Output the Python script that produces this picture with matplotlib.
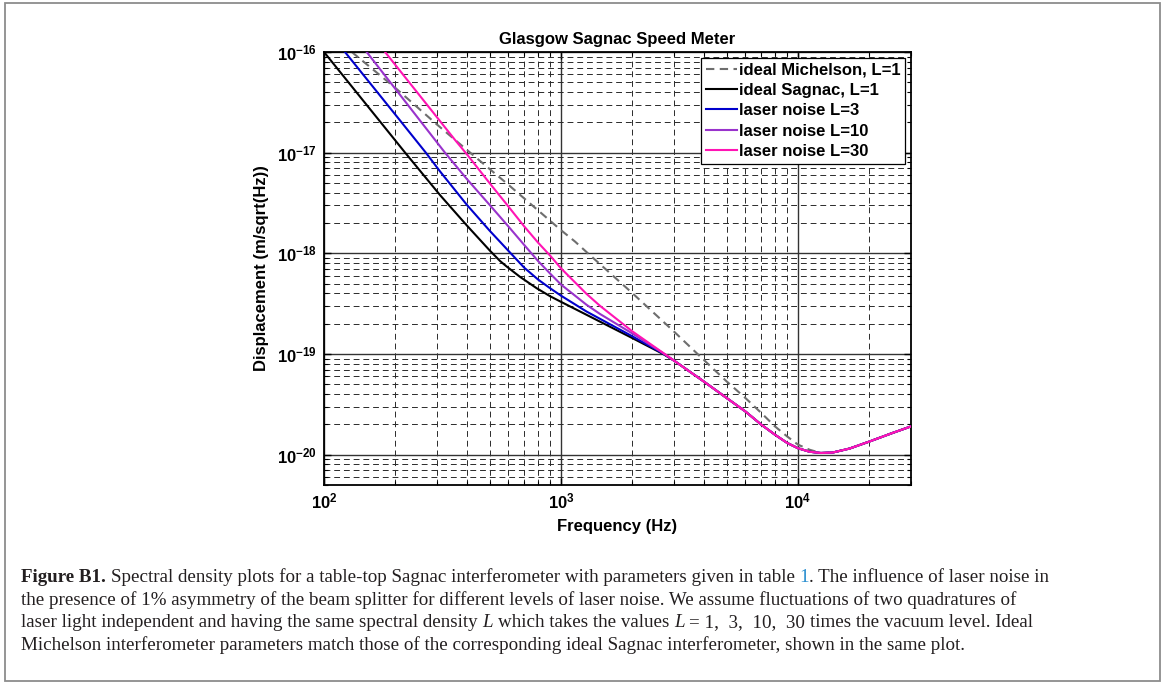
import matplotlib
matplotlib.use("Agg")
import matplotlib.pyplot as plt
from matplotlib.patches import Rectangle
from matplotlib.ticker import NullFormatter, FixedLocator

# ---- values (Hz, m/sqrt(Hz)) ----
# high-frequency part where all curves coincide
freq_tail = [3000, 4000, 5000, 6000, 7000, 8000, 9000, 10000, 11200, 12500,
             14000, 16500, 20000, 25000, 30000]
asd_tail = [8.6e-20, 5.35e-20, 3.66e-20, 2.69e-20, 1.99e-20, 1.58e-20, 1.31e-20,
            1.16e-20, 1.07e-20, 1.04e-20, 1.05e-20, 1.15e-20, 1.35e-20, 1.64e-20, 1.91e-20]

freq_mich = [131, 200, 300, 400, 600, 1000, 1146, 1300, 2000, 2700, 3000, 4000,
             5000, 6000, 7000, 8000, 9000, 10000, 11200]
asd_mich = [1e-16, 4.4e-17, 1.9e-17, 1.07e-17, 4.8e-18, 1.7e-18, 1.31e-18, 1.0e-18,
            4.03e-19, 2.1e-19, 1.67e-19, 8.77e-20, 5.35e-20, 3.66e-20, 2.6e-20,
            1.91e-20, 1.52e-20, 1.26e-20, 1.12e-20]

freq_sag = [100, 220, 310, 400, 502, 553, 590, 671, 790, 900, 1000, 1283, 2000, 2700]
asd_sag = [1.0e-16, 1.0e-17, 3.75e-18, 1.9e-18, 1.06e-18, 8.4e-19, 7.4e-19, 5.85e-19,
           4.5e-19, 3.75e-19, 3.3e-19, 2.45e-19, 1.44e-19, 1.0e-19]

freq_L3 = [122.6, 202.6, 269, 309, 400, 500, 600, 700, 800, 900, 1000, 1283, 2000, 2700]
asd_L3 = [1e-16, 2.3e-17, 1e-17, 6.5e-18, 3.05e-18, 1.68e-18, 1.06e-18, 7.2e-19, 5.5e-19,
          4.5e-19, 3.8e-19, 2.64e-19, 1.5e-19, 1.01e-19]

freq_L10 = [151.4, 324, 400, 500, 600, 700, 800, 900, 1000, 1283, 1461, 2000, 2700]
asd_L10 = [1e-16, 1e-17, 5.5e-18, 3.03e-18, 1.85e-18, 1.21e-18, 8.4e-19, 6.3e-19,
           4.9e-19, 3.08e-19, 2.5e-19, 1.6e-19, 1.02e-19]

freq_L30 = [181, 357, 400, 500, 600, 700, 800, 900, 1000, 1283, 1461, 2000, 2700]
asd_L30 = [1e-16, 1.34e-17, 9.7e-18, 4.98e-18, 2.92e-18, 1.85e-18, 1.28e-18, 9.5e-19,
           7.1e-19, 3.95e-19, 3.01e-19, 1.68e-19, 1.025e-19]

labels = ["ideal Michelson, L=1", "ideal Sagnac, L=1", "laser noise L=3",
          "laser noise L=10", "laser noise L=30"]
xticks = [1e2, 1e3, 1e4]
yticks = [1e-20, 1e-19, 1e-18, 1e-17, 1e-16]

W, H = 1165, 684

plt.rcParams["font.family"] = ["Liberation Sans", "DejaVu Sans"]
plt.rcParams["font.weight"] = "bold"
plt.rcParams["axes.titleweight"] = "bold"
plt.rcParams["axes.labelweight"] = "bold"
plt.rcParams["mathtext.default"] = "regular"

fig = plt.figure(figsize=(W / 100, H / 100), dpi=100)
ax = fig.add_axes([324 / W, 1 - 485 / H, 587 / W, 433 / H])
ax.set_xscale("log")
ax.set_yscale("log")

ax.plot(freq_mich + freq_tail[9:], asd_mich + asd_tail[9:], color="#6e6e6e",
        lw=1.5, ls=(0, (4, 2.6)), label=labels[0], zorder=2)
ax.plot(freq_sag + freq_tail, asd_sag + asd_tail, color="black", lw=1.5,
        label=labels[1], zorder=3)
ax.plot(freq_L3 + freq_tail, asd_L3 + asd_tail, color="#0000cc", lw=1.5,
        label=labels[2], zorder=4)
ax.plot(freq_L10 + freq_tail, asd_L10 + asd_tail, color="#9933cc", lw=1.5,
        label=labels[3], zorder=5)
ax.plot(freq_L30 + freq_tail, asd_L30 + asd_tail, color="#ff14b4", lw=1.5,
        label=labels[4], zorder=6)

ax.set_xlim(100, 30000)
ax.set_ylim(5e-21, 1e-16)
ax.xaxis.set_major_locator(FixedLocator(xticks))
ax.yaxis.set_major_locator(FixedLocator(yticks))
ax.set_axisbelow(True)
ax.grid(which="major", ls="-", color="#333333", lw=1.0)
ax.grid(which="minor", ls=(0, (6, 4)), color="#2a2a2a", lw=0.7)
ax.xaxis.set_minor_formatter(NullFormatter())
ax.yaxis.set_minor_formatter(NullFormatter())
ax.tick_params(which="both", direction="in", top=True, right=True, labelsize=12)
ax.tick_params(which="major", length=5, width=1.0, pad=5)
ax.tick_params(which="minor", length=3, width=0.8)
for s in ax.spines.values():
    s.set_linewidth(1.3)

ax.set_title("Glasgow Sagnac Speed Meter", fontsize=12, pad=6)
ax.set_xlabel("Frequency (Hz)", fontsize=12, labelpad=5)
ax.set_ylabel("Displacement (m/sqrt(Hz))", fontsize=12, labelpad=6)

leg = ax.legend(loc="upper right", fontsize=12, fancybox=False, framealpha=1,
                edgecolor="black", borderaxespad=0.35, handlelength=1.9,
                handletextpad=0.1, labelspacing=0.32, borderpad=0.28)
leg.get_frame().set_linewidth(0.9)

# outer frame of the figure box
fig.add_artist(Rectangle((5 / W, 1 - 681 / H), 1155 / W, 678 / H,
                         transform=fig.transFigure, fill=False,
                         ec="#8c8c8c", lw=1.3))

# ---- caption ----
CAP = dict(family=["Liberation Serif", "DejaVu Serif"], fontsize=13.7,
           fontweight="normal", color="#231f20")
renderer = fig.canvas.get_renderer()


def text_w(s, **kw):
    t = fig.text(0.5, 0.5, s, **kw)
    w = t.get_window_extent(renderer).width
    t.remove()
    return w


def caption_line(pieces, x_px, y_px):
    x = x_px
    for s, kw in pieces:
        style = dict(CAP, **kw)
        if s.startswith(" "):
            x += text_w("a a", **style) - text_w("aa", **style)
            s = s[1:]
        t = fig.text(x / W, 1 - y_px / H, s, ha="left", va="baseline", **style)
        x += t.get_window_extent(renderer).width


caption_line([("Figure B1.", dict(fontweight="bold")),
              (" Spectral density plots for a table-top Sagnac interferometer with "
               "parameters given in table", {}),
              (" 1", dict(color="#2a8fd0")),
              (". The influence of laser noise in", {})], 21, 582)
caption_line([("the presence of 1% asymmetry of the beam splitter for different levels "
               "of laser noise. We assume fluctuations of two quadratures of", {})], 21, 605)
caption_line([("laser light independent and having the same spectral density", {}),
              (" L", dict(style="italic")),
              (" which takes the values", {}),
              (" L", dict(style="italic")),
              (" = 1,  3,  10,  30", {}),
              (" times the vacuum level. Ideal", {})], 21, 627)
caption_line([("Michelson interferometer parameters match those of the corresponding "
               "ideal Sagnac interferometer, shown in the same plot.", {})], 21, 650)

fig.savefig("out.png", dpi=100)
